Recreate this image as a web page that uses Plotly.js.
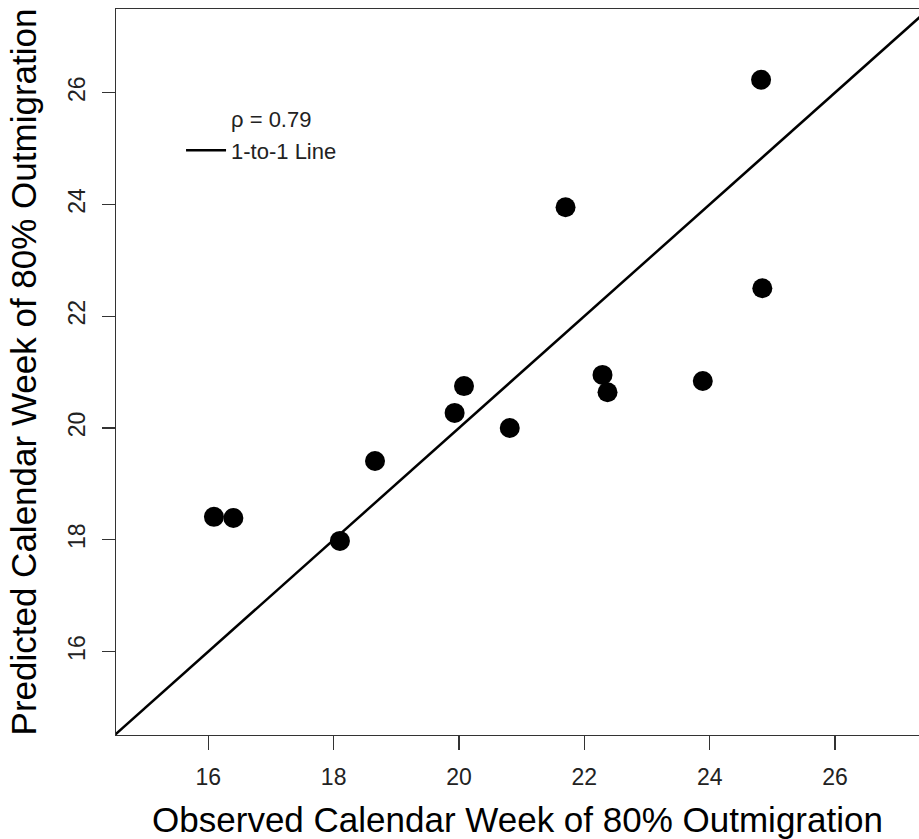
<!DOCTYPE html>
<html>
<head>
<meta charset="utf-8">
<script src="https://cdn.plot.ly/plotly-3.0.1.min.js"></script>
<style>html,body{margin:0;padding:0;background:#fff;}#chart{width:919px;height:839px;}</style>
</head>
<body>
<div id="chart"></div>
<script>
var observedWeek = [16.09, 16.40, 18.10, 18.66, 19.93, 20.08, 20.81, 21.70, 22.29, 22.37, 23.89, 24.84, 24.82];
var predictedWeek = [18.41, 18.39, 17.98, 19.41, 20.27, 20.75, 20.00, 23.95, 20.95, 20.64, 20.84, 22.50, 26.23];
var oneToOneX = [14, 28];
var oneToOneY = [14, 28];
var xTicks = [16, 18, 20, 22, 24, 26];
var yTicks = [16, 18, 20, 22, 24, 26];
var rhoLabel = "ρ = 0.79";
var lineLabel = "1-to-1 Line";

var font = "Liberation Sans, Arial, sans-serif";

var traces = [
  {
    x: [null], y: [null], mode: "lines", name: rhoLabel,
    line: {color: "rgba(0,0,0,0)", width: 2.5}, showlegend: true, hoverinfo: "skip"
  },
  {
    x: oneToOneX, y: oneToOneY, mode: "lines", name: lineLabel,
    line: {color: "#000", width: 2.5}, showlegend: true
  },
  {
    x: observedWeek, y: predictedWeek, mode: "markers", name: "points",
    marker: {color: "#000", size: 20}, showlegend: false, cliponaxis: false
  }
];

var layout = {
  width: 919, height: 839,
  margin: {l: 116, r: 0, t: 9, b: 104},
  paper_bgcolor: "#fff", plot_bgcolor: "#fff",
  font: {family: font, color: "#222", size: 22},
  showlegend: true,
  legend: {
    x: 0.081, y: 0.8775, xanchor: "left", yanchor: "top",
    bgcolor: "rgba(0,0,0,0)", borderwidth: 0,
    font: {family: font, size: 22, color: "#222"},
    itemwidth: 40, tracegroupgap: 0
  },
  xaxis: {
    range: [14.527, 27.34], tickvals: xTicks, ticktext: xTicks.map(String),
    showgrid: false, zeroline: false,
    showline: true, linecolor: "#333", linewidth: 1.3, mirror: true,
    ticks: "outside", ticklen: 14, tickcolor: "#333", tickwidth: 1.3,
    tickfont: {family: font, size: 23, color: "#222"},
    ticklabelstandoff: 7,
    title: {text: "Observed Calendar Week of 80% Outmigration", font: {family: font, size: 35, color: "#000"}}
  },
  yaxis: {
    range: [14.507, 27.496], tickvals: yTicks, ticktext: yTicks.map(String),
    showgrid: false, zeroline: false,
    showline: true, linecolor: "#333", linewidth: 1.3, mirror: false,
    ticks: "outside", ticklen: 13, tickcolor: "#333", tickwidth: 1.3,
    tickangle: -90,
    tickfont: {family: font, size: 23, color: "#222"},
    ticklabelstandoff: 8,
    title: {text: "Predicted Calendar Week of 80% Outmigration", font: {family: font, size: 35, color: "#000"}}
  }
};

Plotly.newPlot("chart", traces, layout, {displayModeBar: false, staticPlot: true});
</script>
</body>
</html>
